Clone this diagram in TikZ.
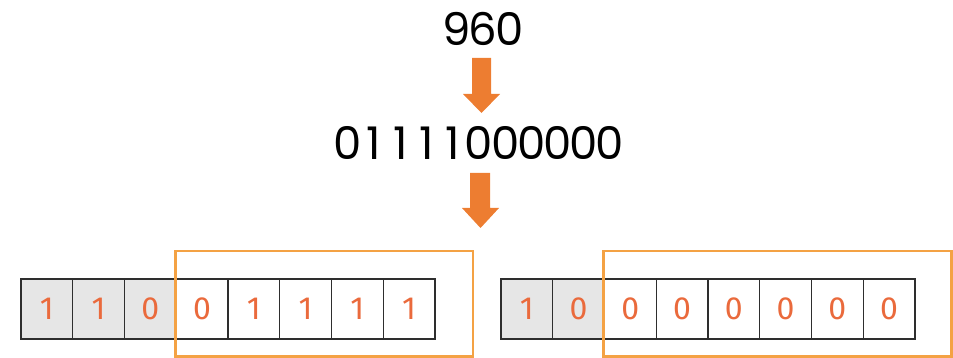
\documentclass[tikz,border=0pt]{standalone}
\usepackage{fontspec}
\setmainfont{Poppins}
\newfontfamily\cellfont{Fira Sans}
\newcommand{\fixdg}[1]{\makebox[26.2pt]{#1}}
\definecolor{arroworange}{HTML}{ED7D31}
\definecolor{boxorange}{HTML}{F4A244}
\definecolor{digitorange}{HTML}{EA6A3C}
\definecolor{cellgrey}{HTML}{E6E6E6}
\definecolor{cellline}{HTML}{2E2E2E}
\begin{document}
\begin{tikzpicture}[x=1pt,y=-1pt,
  cellbox/.style={draw=cellline,line width=1.4pt,minimum width=51.75pt,minimum height=60pt,inner sep=0pt,outer sep=0pt,anchor=north west,font=\cellfont\fontsize{32}{32}\selectfont,text=digitorange},
  greycell/.style={cellbox,fill=cellgrey},
  bigtext/.style={font=\fontsize{45}{45}\selectfont,text=black,inner sep=0pt},
  framebox/.style={draw=boxorange,line width=2.3pt},
  blockarrow/.style={fill=arroworange,draw=none}]
\useasboundingbox (0,0) rectangle (953,358);
% top texts
\node[bigtext] (n960) at (483,29) {\fixdg{9}\fixdg{6}\fixdg{0}};
\node[bigtext] (nbin) at (479,143) {\fixdg{0}\fixdg{1}\fixdg{1}\fixdg{1}\fixdg{1}\fixdg{0}\fixdg{0}\fixdg{0}\fixdg{0}\fixdg{0}\fixdg{0}};
% block arrows
\fill[blockarrow] (472,58) -- (472,94) -- (463,94) -- (481.5,113) -- (500,94) -- (491,94) -- (491,58) -- cycle;
\fill[blockarrow] (470,173) -- (470,208) -- (462,208) -- (480.5,228) -- (499,208) -- (490,208) -- (490,173) -- cycle;
% left register
\node[greycell] (l1) at (21,279) {1};
\node[greycell] (l2) at (72.75,279) {1};
\node[greycell] (l3) at (124.5,279) {0};
\node[cellbox] (l4) at (176.25,279) {0};
\node[cellbox] (l5) at (228,279) {1};
\node[cellbox] (l6) at (279.75,279) {1};
\node[cellbox] (l7) at (331.5,279) {1};
\node[cellbox] (l8) at (383.25,279) {1};
% right register
\node[greycell] (r1) at (501,279) {1};
\node[greycell] (r2) at (552.75,279) {0};
\node[cellbox] (r3) at (604.5,279) {0};
\node[cellbox] (r4) at (656.25,279) {0};
\node[cellbox] (r5) at (708,279) {0};
\node[cellbox] (r6) at (759.75,279) {0};
\node[cellbox] (r7) at (811.5,279) {0};
\node[cellbox] (r8) at (863.25,279) {0};
% orange frames
\draw[framebox] (175.5,251) rectangle (473,356.5);
\draw[framebox] (603.5,251) rectangle (951.5,356.5);
\end{tikzpicture}
\end{document}
